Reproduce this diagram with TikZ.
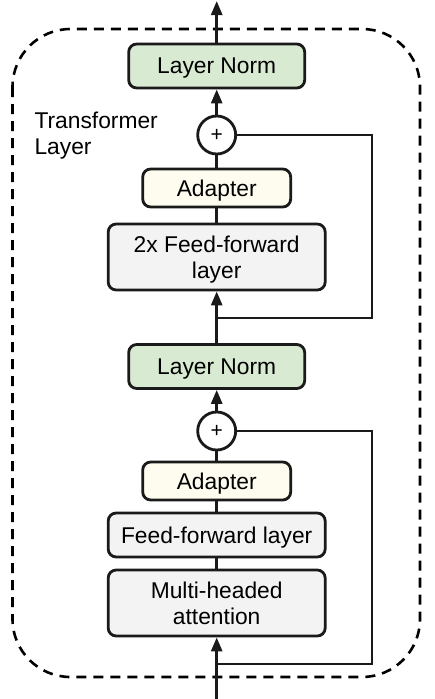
\documentclass[tikz,border=0pt]{standalone}
\usepackage{fontspec}
\setmainfont{Liberation Sans}
\usetikzlibrary{arrows.meta}
\definecolor{normgreen}{HTML}{D9EAD3}
\definecolor{adaptcream}{HTML}{FEFCEF}
\definecolor{layergray}{HTML}{F3F3F3}
\definecolor{edgeblack}{HTML}{1A1A1A}
\tikzset{
  blk/.style={draw=edgeblack, line width=2.8pt, rounded corners=8pt, align=center,
    font=\fontsize{22.8}{26.5}\selectfont, inner sep=0pt, text depth=0pt},
  normbox/.style={blk, fill=normgreen, minimum width=176pt, minimum height=44pt},
  adaptbox/.style={blk, fill=adaptcream, minimum width=148pt, minimum height=38pt},
  ffbox/.style={blk, fill=layergray, minimum width=217pt},
  addcirc/.style={draw=edgeblack, line width=2.8pt, circle, fill=white, minimum size=38pt,
    inner sep=0pt, font=\fontsize{21}{21}\selectfont},
  conn/.style={draw=edgeblack, line width=2.8pt},
  arr/.style={conn, -{Triangle[length=14pt,width=11pt]}},
}
\begin{document}
\begin{tikzpicture}[x=1pt,y=-1pt]
\useasboundingbox (0,0) rectangle (435,699);
% dashed outer frame
\draw[line width=2.6pt, dash pattern=on 10pt off 7pt, rounded corners=58pt]
  (12.5,29) rectangle (420,677);
\node[anchor=west, align=left, font=\fontsize{22.8}{26}\selectfont] (lbl) at (31,136) {Transformer\\Layer};

% upper block
\node[normbox] (ln1) at (216.7,66) {Layer Norm};
\node[addcirc] (p1) at (216.7,135) {+};
\node[adaptbox] (ad1) at (216.7,188) {Adapter};
\node[ffbox, minimum height=66pt] (ff2) at (216.7,257) {2x Feed-forward\\layer};

% lower block
\node[normbox] (ln2) at (216.7,366.5) {Layer Norm};
\node[addcirc] (p2) at (216.7,431) {+};
\node[adaptbox] (ad2) at (216.7,481) {Adapter};
\node[ffbox, minimum height=44pt] (ff) at (216.7,535) {Feed-forward layer};
\node[ffbox, minimum height=66pt] (mha) at (216.7,603) {Multi-headed\\attention};

% coordinates
\coordinate (in) at (216.7,699);
\coordinate (out) at (216.7,1);
\coordinate (j2) at (216.7,664);
\coordinate (r2) at (372,664);
\coordinate (j1) at (216.7,318);
\coordinate (r1) at (372,318);

% lower connections
\draw[arr] (in) -- (mha.south);
\draw[conn] (mha) -- (ff);
\draw[conn] (ff) -- (ad2);
\draw[conn] (ad2) -- (p2);
\draw[arr] (p2) -- (ln2.south);
\draw[conn] (j2) -- (r2) |- (p2.east);

% upper connections
\draw[arr] (ln2.north) -- (ff2.south);
\draw[conn] (ff2) -- (ad1);
\draw[conn] (ad1) -- (p1);
\draw[arr] (p1) -- (ln1.south);
\draw[arr] (ln1.north) -- (out);
\draw[conn] (j1) -- (r1) |- (p1.east);
\end{tikzpicture}
\end{document}
